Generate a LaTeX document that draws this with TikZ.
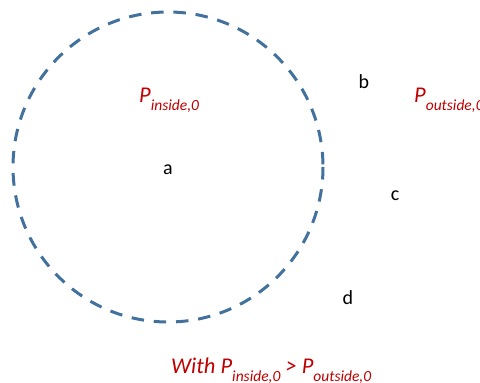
\documentclass[tikz,border=0pt]{standalone}
\usepackage{fontspec}
\setmainfont{Carlito}
\usepackage{xcolor}
\usetikzlibrary{positioning}
\definecolor{ringblue}{HTML}{41719C}
\definecolor{probred}{HTML}{C00000}
\newcommand{\probsub}[1]{P\raisebox{-0.36em}{\fontsize{15.5}{16}\selectfont #1,0}}
\tikzset{
  ring/.style={draw=ringblue, line width=3pt, dash pattern=on 12.5pt off 9.8pt},
  problabel/.style={text=probred, font=\fontsize{22.5}{24}\selectfont\itshape, inner sep=0pt, anchor=base west},
  siteletter/.style={font=\fontsize{20}{22}\selectfont, inner sep=0pt}
}
\begin{document}
\begin{tikzpicture}[x=1pt, y=-1pt]
\useasboundingbox (0,0) rectangle (480,383);
\clip (0,0) rectangle (480,383);
\draw[ring] (168,167) circle[radius=155];
\node[problabel] (pin) at (139,102) {\probsub{inside}};
\node[problabel] (pout) at (414,102) {\probsub{outside}};
\node[siteletter] (a) at (168,170) {a};
\node[siteletter] (b) at (364,82) {b};
\node[siteletter] (c) at (395,196) {c};
\node[siteletter] (d) at (348,298) {d};
\node[problabel] (cond) at (171,373) {With \probsub{inside} > \probsub{outside}};
\end{tikzpicture}
\end{document}
